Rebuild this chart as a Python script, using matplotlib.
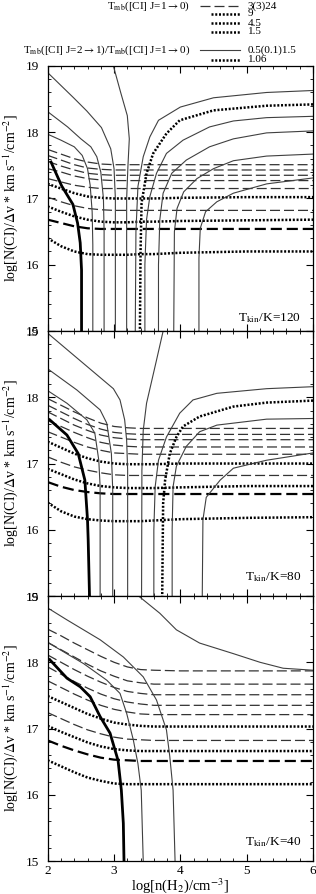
import matplotlib
matplotlib.use('Agg')
import matplotlib.pyplot as plt
from matplotlib.ticker import MultipleLocator
from matplotlib.lines import Line2D

plt.rcParams['font.family'] = ['Liberation Serif', 'DejaVu Serif']
plt.rcParams['mathtext.fontset'] = 'stix'

# Tmb([CI] 1-0) levels of the near-horizontal curves (top to bottom)
tmb_levels = [24, 21, 18, 15, 12, 9, 6, 4.5, 3, 1.5]
dotted_levels = [9, 4.5, 1.5]

# x grid of the horizontal curves
hx = [2.0, 2.2, 2.4, 2.6, 2.8, 3.0, 3.2, 3.4, 3.6, 4.0, 5.0, 6.0]

# Tkin = 120 K
h120 = [
    [17.74, 17.67, 17.60, 17.55, 17.52, 17.51, 17.51, 17.51, 17.51, 17.51, 17.51, 17.51],
    [17.65, 17.58, 17.51, 17.46, 17.44, 17.43, 17.43, 17.43, 17.43, 17.43, 17.43, 17.43],
    [17.56, 17.49, 17.43, 17.38, 17.36, 17.35, 17.35, 17.35, 17.35, 17.35, 17.35, 17.35],
    [17.45, 17.40, 17.34, 17.30, 17.28, 17.27, 17.27, 17.27, 17.27, 17.27, 17.27, 17.27],
    [17.30, 17.25, 17.20, 17.17, 17.15, 17.15, 17.15, 17.15, 17.15, 17.15, 17.15, 17.15],
    [17.22, 17.15, 17.08, 17.03, 17.01, 17.00, 17.00, 17.00, 17.00, 17.01, 17.02, 17.02],
    [17.02, 16.95, 16.89, 16.85, 16.83, 16.82, 16.82, 16.82, 16.82, 16.82, 16.82, 16.82],
    [16.88, 16.80, 16.73, 16.68, 16.65, 16.64, 16.64, 16.65, 16.65, 16.66, 16.67, 16.68],
    [16.68, 16.63, 16.58, 16.55, 16.54, 16.54, 16.54, 16.54, 16.54, 16.54, 16.54, 16.54],
    [16.40, 16.28, 16.20, 16.16, 16.15, 16.15, 16.15, 16.16, 16.16, 16.18, 16.20, 16.20],
]
c120_thick = [(2.05, 17.55), (2.21, 17.19), (2.38, 16.91), (2.45, 16.63), (2.49, 16.33), (2.51, 15.92), (2.51, 15.0)]
c120 = [
    [(2.0, 17.97), (2.20, 17.88), (2.40, 17.78), (2.52, 17.65), (2.60, 17.45), (2.64, 17.2), (2.67, 16.8), (2.68, 16.3), (2.68, 15.0)],
    [(2.0, 18.31), (2.30, 18.08), (2.50, 17.90), (2.65, 17.78), (2.74, 17.63), (2.80, 17.4), (2.84, 17.0), (2.85, 16.5), (2.85, 15.0)],
    [(2.02, 18.88), (2.39, 18.52), (2.59, 18.32), (2.81, 18.07), (2.95, 17.75), (3.0, 17.45), (3.02, 17.0), (3.02, 15.0)],
    [(2.99, 19.0), (3.10, 18.6), (3.20, 18.25), (3.23, 17.9), (3.21, 17.5), (3.19, 17.0), (3.19, 15.0)],
    [(6.0, 18.63), (5.3, 18.60), (4.5, 18.52), (4.0, 18.38), (3.67, 18.18), (3.54, 17.93), (3.44, 17.63), (3.36, 17.18), (3.33, 16.5), (3.32, 15.0)],
    [(6.0, 18.24), (5.3, 18.22), (4.8, 18.17), (4.44, 18.08), (4.04, 17.88), (3.79, 17.68), (3.64, 17.38), (3.54, 17.03), (3.49, 16.68), (3.465, 16.0), (3.465, 15.0)],
    [(6.0, 18.02), (5.3, 17.99), (4.8, 17.9), (4.44, 17.78), (4.09, 17.58), (3.87, 17.38), (3.74, 17.08), (3.69, 16.68), (3.67, 16.0), (3.67, 15.0)],
    [(6.0, 17.67), (5.3, 17.64), (4.8, 17.57), (4.5, 17.45), (4.25, 17.3), (4.05, 17.1), (3.95, 16.85), (3.91, 16.5), (3.90, 15.0)],
    [(6.0, 17.31), (5.3, 17.22), (4.8, 17.08), (4.55, 16.95), (4.38, 16.8), (4.30, 16.55), (4.28, 16.1), (4.28, 15.0)],
]
c120_dot = [(6.0, 18.42), (5.3, 18.40), (4.5, 18.33), (3.99, 18.18), (3.79, 17.98), (3.59, 17.68), (3.49, 17.38), (3.415, 16.93), (3.40, 16.22), (3.39, 15.0)]

# Tkin = 80 K
h80 = [
    [17.98, 17.88, 17.78, 17.69, 17.61, 17.56, 17.54, 17.53, 17.53, 17.53, 17.53, 17.53],
    [17.88, 17.78, 17.68, 17.59, 17.52, 17.47, 17.45, 17.44, 17.44, 17.44, 17.44, 17.44],
    [17.78, 17.68, 17.58, 17.50, 17.43, 17.39, 17.37, 17.36, 17.36, 17.36, 17.36, 17.36],
    [17.65, 17.56, 17.47, 17.39, 17.32, 17.28, 17.26, 17.25, 17.25, 17.25, 17.25, 17.25],
    [17.48, 17.40, 17.32, 17.25, 17.20, 17.16, 17.15, 17.14, 17.14, 17.14, 17.14, 17.14],
    [17.33, 17.24, 17.15, 17.08, 17.03, 17.00, 16.99, 16.99, 16.99, 17.00, 17.00, 17.00],
    [17.10, 17.02, 16.95, 16.90, 16.86, 16.83, 16.82, 16.82, 16.82, 16.82, 16.82, 16.82],
    [16.92, 16.84, 16.76, 16.70, 16.66, 16.64, 16.63, 16.63, 16.63, 16.64, 16.66, 16.66],
    [16.72, 16.65, 16.60, 16.57, 16.55, 16.54, 16.54, 16.54, 16.54, 16.54, 16.54, 16.54],
    [16.41, 16.28, 16.20, 16.16, 16.14, 16.13, 16.13, 16.13, 16.14, 16.16, 16.18, 16.19],
]
c80_thick = [(2.03, 17.66), (2.29, 17.43), (2.46, 17.15), (2.56, 16.75), (2.60, 16.15), (2.61, 15.85), (2.63, 15.0)]
c80 = [
    [(2.0, 18.10), (2.29, 17.91), (2.59, 17.66), (2.71, 17.46), (2.77, 17.05), (2.79, 16.65), (2.79, 15.0)],
    [(2.0, 18.43), (2.44, 18.11), (2.79, 17.81), (2.89, 17.61), (2.96, 17.15), (2.98, 16.6), (2.98, 15.0)],
    [(2.02, 18.95), (2.54, 18.51), (2.99, 18.13), (3.09, 17.96), (3.16, 17.66), (3.19, 17.35), (3.205, 16.9), (3.205, 15.0)],
    [(3.74, 19.0), (3.64, 18.56), (3.49, 17.91), (3.44, 17.5), (3.42, 16.9), (3.415, 15.0)],
    [(6.0, 18.16), (5.3, 18.13), (4.55, 18.06), (4.19, 17.96), (3.99, 17.76), (3.79, 17.40), (3.67, 17.05), (3.62, 16.65), (3.60, 16.0), (3.60, 15.0)],
    [(6.0, 17.68), (5.3, 17.67), (4.55, 17.58), (4.29, 17.48), (4.09, 17.26), (3.94, 16.96), (3.89, 16.65), (3.876, 16.0), (3.876, 15.0)],
    [(6.0, 17.16), (5.3, 17.05), (4.8, 16.93), (4.6, 16.75), (4.39, 16.49), (4.34, 16.15), (4.33, 15.0)],
]
c80_dot = [(6.0, 17.95), (5.3, 17.92), (4.8, 17.86), (4.29, 17.71), (4.04, 17.56), (3.94, 17.40), (3.84, 17.15), (3.77, 16.75), (3.74, 16.40), (3.726, 15.0)]

# Tkin = 40 K
h40 = [
    [18.50, 18.40, 18.29, 18.19, 18.09, 18.00, 17.93, 17.89, 17.88, 17.87, 17.87, 17.87],
    [18.30, 18.19, 18.08, 17.97, 17.87, 17.79, 17.72, 17.69, 17.67, 17.67, 17.67, 17.67],
    [18.11, 18.00, 17.89, 17.79, 17.70, 17.62, 17.56, 17.53, 17.51, 17.51, 17.51, 17.51],
    [17.93, 17.82, 17.71, 17.61, 17.52, 17.45, 17.40, 17.37, 17.35, 17.35, 17.35, 17.35],
    [17.72, 17.62, 17.52, 17.43, 17.35, 17.29, 17.25, 17.22, 17.21, 17.21, 17.21, 17.21],
    [17.49, 17.40, 17.31, 17.22, 17.15, 17.09, 17.06, 17.04, 17.03, 17.03, 17.03, 17.03],
    [17.24, 17.15, 17.06, 16.98, 16.92, 16.87, 16.84, 16.83, 16.82, 16.82, 16.82, 16.82],
    [17.04, 16.95, 16.87, 16.79, 16.73, 16.69, 16.67, 16.66, 16.66, 16.66, 16.66, 16.66],
    [16.82, 16.74, 16.67, 16.61, 16.56, 16.53, 16.52, 16.51, 16.51, 16.51, 16.51, 16.51],
    [16.52, 16.43, 16.34, 16.26, 16.21, 16.17, 16.16, 16.16, 16.16, 16.16, 16.16, 16.16],
]
c40_thick = [(2.03, 18.04), (2.29, 17.76), (2.49, 17.63), (2.64, 17.48), (2.79, 17.18), (2.94, 16.93), (3.06, 16.52), (3.11, 16.07), (3.14, 15.57), (3.15, 15.0)]
c40 = [
    [(2.0, 18.30), (2.54, 17.98), (2.89, 17.73), (3.09, 17.53), (3.19, 17.23), (3.29, 16.83), (3.36, 16.47), (3.41, 16.07), (3.44, 15.0)],
    [(2.0, 18.82), (2.29, 18.64), (2.79, 18.34), (3.14, 18.08), (3.44, 17.78), (3.64, 17.43), (3.79, 16.98), (3.84, 16.58), (3.89, 16.07), (3.92, 15.0)],
    [(3.37, 19.0), (3.69, 18.74), (3.94, 18.49), (4.29, 18.29), (4.80, 18.13), (5.20, 18.0), (5.55, 17.91), (6.0, 17.88)],
]
c40_dot = []

# line styles
thin_solid = dict(color='0.25', lw=0.8)
thick_solid = dict(color='k', lw=2.0)
thin_dash = dict(color='0.2', lw=0.9, linestyle=(0, (8, 3.2)))
thick_dash = dict(color='k', lw=1.6, linestyle=(0, (5, 2.2)))
dots = dict(color='k', lw=1.8, linestyle=(0, (0.8, 0.7)))


def hstyle(level):
    if level in dotted_levels:
        return dots
    if level == 3:
        return thick_dash
    return thin_dash


def draw_panel(ax, hlines, curves, thick, dotc, label, ly):
    for level, vals in zip(tmb_levels, hlines):
        ax.plot(hx, vals, **hstyle(level))
    for c in curves:
        ax.plot([p[0] for p in c], [p[1] for p in c], **thin_solid)
    if dotc:
        ax.plot([p[0] for p in dotc], [p[1] for p in dotc], **dots)
    ax.plot([p[0] for p in thick], [p[1] for p in thick], **thick_solid)

    ax.set_xlim(2, 6)
    ax.set_ylim(15, 19)
    ax.xaxis.set_major_locator(MultipleLocator(1))
    ax.xaxis.set_minor_locator(MultipleLocator(0.2))
    ax.yaxis.set_major_locator(MultipleLocator(1))
    ax.yaxis.set_minor_locator(MultipleLocator(0.2))
    ax.tick_params(which='both', direction='in', top=True, right=True, labelsize=9.5)
    ax.tick_params(axis='y', pad=6)
    ax.tick_params(axis='x', pad=3)
    ax.tick_params(which='major', length=5, width=0.8)
    ax.tick_params(which='minor', length=2.5, width=0.6)
    ax.set_ylabel(r'log[N(CI)/$\Delta$v * km s$^{-1}$/cm$^{-2}$]', fontsize=10)
    ax.yaxis.set_label_coords(-0.105, 0.5)
    ax.text(0.955, ly, r'T$_{\rm kin}$/K=' + label, transform=ax.transAxes,
            ha='right', va='center', fontsize=9.5)
    for s in ax.spines.values():
        s.set_linewidth(0.9)


fig = plt.figure(figsize=(3.16, 8.94), dpi=100)
left, width, height = 0.151, 0.8396, 0.2964

ax1 = fig.add_axes([left, 0.6298, width, height])
draw_panel(ax1, h120, c120, c120_thick, c120_dot, '120', 0.05)
ax1.tick_params(labelbottom=False)

ax2 = fig.add_axes([left, 0.3333, width, height])
draw_panel(ax2, h80, c80, c80_thick, c80_dot, '80', 0.07)
ax2.tick_params(labelbottom=False)

ax3 = fig.add_axes([left, 0.0369, width, height])
draw_panel(ax3, h40, c40, c40_thick, c40_dot, '40', 0.07)
ax3.set_xlabel(r'log[n(H$_2$)/cm$^{-3}$]', fontsize=10.5)
ax3.xaxis.set_label_coords(0.5, -0.058)

# legend block above the top panel
W, H = 316.0, 894.0
legend_rows = [
    (6, r'T$_{\rm mb}$([CI] J=1$\rightarrow$0)', thin_dash, '3(3)24', 200),
    (14, '', dots, '9', 211),
    (23, '', dots, '4.5', 211),
    (32, '', dots, '1.5', 211),
    (50, r'T$_{\rm mb}$([CI] J=2$\rightarrow$1)/T$_{\rm mb}$([CI] J=1$\rightarrow$0)', thin_solid, '0.5(0.1)1.5', 200),
    (60, '', dots, '1.06', 211),
]
for ypx, txt, style, val, x0 in legend_rows:
    yf = 1 - ypx / H
    if txt:
        fig.text(190 / W, yf, txt, ha='right', va='center', fontsize=8)
    fig.add_artist(Line2D([x0 / W, 240 / W], [yf, yf], transform=fig.transFigure, **style))
    fig.text(248 / W, yf, val, ha='left', va='center', fontsize=8)

fig.savefig('out.png', dpi=100)
